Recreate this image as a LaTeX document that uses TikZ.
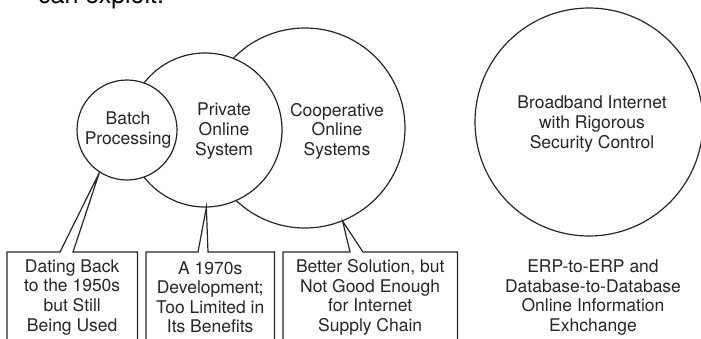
\documentclass[tikz,border=0pt]{standalone}
\usepackage{fontspec}
\setmainfont{TeX Gyre Heros}
\usetikzlibrary{calc}
\begin{document}
\begin{tikzpicture}[x=1pt,y=-1pt,
  ring/.style={draw=black!85, line width=1.2pt, circle, inner sep=0pt, fill=white},
  lbl/.style={align=center, font=\fontsize{17.5}{19.6}\selectfont, text=black!85, inner sep=0pt},
  callout/.style={draw=black!85, line width=1.2pt, line join=miter},
  boxarea/.style={rectangle, inner sep=0pt, minimum width=#1, minimum height=90pt, align=center, font=\fontsize{17.5}{19.6}\selectfont, text=black!85},
]
\useasboundingbox (0,0) rectangle (701,338);
\clip (0,0) rectangle (701,338);
\node[anchor=base west, font=\fontsize{25}{30}\selectfont, inner sep=0pt] (top) at (38,3) {can exploit.};
% circles
\node[ring, minimum size=200pt] (coop) at (305,128) {};
\node[ring, minimum size=154pt] (priv) at (205,130) {};
\node[ring, minimum size=100pt] (batch) at (127,130) {};
\node[ring, minimum size=228pt] (broad) at (589,122) {};
% circle labels
\node[lbl] (tbatch) at (128,130) {Batch\\Processing};
\node[lbl] (tpriv) at (224,131) {Private\\Online\\System};
\node[lbl] (tcoop) at (337,131) {Cooperative\\Online\\Systems};
\node[lbl] (tbroad) at (592,124) {Broadband Internet\\with Rigorous\\Security Control};
\node[lbl] (terp) at (593,297.5) {ERP-to-ERP and\\Database-to-Database\\Online Information\\Exhchange};
% boxes
\node[boxarea=130pt, anchor=north west] (b1) at (7,252) {Dating Back\\to the 1950s\\but Still\\Being Used};
\node[boxarea=128pt, anchor=north west] (b2) at (146,252) {A 1970s\\Development;\\Too Limited in\\Its Benefits};
\node[boxarea=174pt, anchor=north west] (b3) at (283,252) {Better Solution, but\\Not Good Enough\\for Internet\\Supply Chain};
% pointer tips
\coordinate (p1) at (batch.237);
\coordinate (p2) at (priv.271);
\coordinate (p3) at (coop.292);
\draw[callout] (b1.north west) -- ($(b1.north west)+(53,0)$) -- (p1) -- ($(b1.north west)+(66,0)$) -- (b1.north east) -- (b1.south east) -- (b1.south west) -- cycle;
\draw[callout] (b2.north west) -- ($(b2.north west)+(52,0)$) -- (p2) -- ($(b2.north west)+(62,0)$) -- (b2.north east) -- (b2.south east) -- (b2.south west) -- cycle;
\draw[callout] (b3.north west) -- ($(b3.north west)+(67,0)$) -- (p3) -- ($(b3.north west)+(80,0)$) -- (b3.north east) -- (b3.south east) -- (b3.south west) -- cycle;
\end{tikzpicture}
\end{document}
